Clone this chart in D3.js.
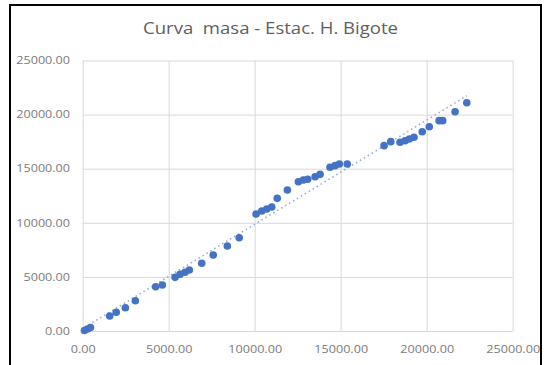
<!DOCTYPE html>
<html>
<head>
<meta charset="utf-8">
<script src="https://cdn.jsdelivr.net/npm/d3@7/dist/d3.min.js"></script>
<style>
  body { margin: 0; background: #fff; }
  svg { display: block; }
</style>
</head>
<body>
<svg id="chart" width="544" height="365"></svg>
<script>
// Mass curve: cumulative values of the station against the cumulative reference
const chartTitle = "Curva  masa - Estac. H. Bigote";

const xCumulative = [
  100, 280, 450, 1570, 1950, 2480, 3060, 4240, 4630, 5370,
  5660, 5950, 6200, 6920, 7590, 8410, 9100, 10080, 10410, 10700,
  10990, 11310, 11900, 12540, 12830, 13080, 13510, 13800, 14380, 14670,
  14920, 15380, 17520, 17910, 18450, 18740, 18990, 19260, 19740, 20150,
  20720, 20930, 21650, 22330
];
const yCumulative = [
  50, 180, 320, 1390, 1730, 2150, 2800, 4090, 4250, 4960,
  5240, 5430, 5640, 6260, 7020, 7860, 8620, 10810, 11090, 11280,
  11460, 12260, 13030, 13800, 13960, 14020, 14260, 14480, 15130, 15280,
  15430, 15430, 17130, 17500, 17440, 17590, 17750, 17900, 18420, 18880,
  19440, 19440, 20270, 21100
];

const xTickValues = [0, 5000, 10000, 15000, 20000, 25000];
const yTickValues = [0, 5000, 10000, 15000, 20000, 25000];

const svg = d3.select("#chart");
const FONT = "'Open Sans', 'Liberation Sans', sans-serif";
const GRID = "#d9d9d9";
const LABEL = "#7a7a7a";
const BLUE = "#4472c4";

// outer chart frame
svg.append("path")
  .attr("d", "M10,372 V5 H541 V372")
  .attr("fill", "none")
  .attr("stroke", "#000")
  .attr("stroke-width", 2);

const x = d3.scaleLinear().domain([0, 25000]).range([82.7, 512.7]);
const y = d3.scaleLinear().domain([0, 25000]).range([331, 60.5]);

// stretch tick labels horizontally to the wide face used in the chart
function widen(sel, factor) {
  sel.each(function () {
    const w = this.getComputedTextLength();
    d3.select(this).attr("textLength", w * factor).attr("lengthAdjust", "spacingAndGlyphs");
  });
}

// y axis with horizontal gridlines
const yAxis = svg.append("g")
  .attr("transform", `translate(${x(0)},0)`)
  .call(d3.axisLeft(y).tickValues(yTickValues).tickSize(-(x(25000) - x(0))).tickPadding(12.7)
    .tickFormat(d => d.toFixed(2)));
yAxis.select(".domain").remove();
yAxis.selectAll(".tick line").attr("stroke", GRID).attr("stroke-width", 1);
yAxis.selectAll(".tick text")
  .attr("fill", LABEL).style("font-family", FONT).style("font-size", "10px")
  .call(widen, 1.26);

// x axis with vertical gridlines
const xAxis = svg.append("g")
  .attr("transform", `translate(0,${y(0)})`)
  .call(d3.axisBottom(x).tickValues(xTickValues).tickSize(-(y(0) - y(25000))).tickPadding(0)
    .tickFormat(d => d.toFixed(2)));
xAxis.select(".domain").remove();
xAxis.selectAll(".tick line").attr("stroke", GRID).attr("stroke-width", 1);
xAxis.selectAll(".tick text")
  .attr("y", 22).attr("dy", 0)
  .attr("fill", LABEL).style("font-family", FONT).style("font-size", "10px")
  .call(widen, 1.26);

// plot points
const points = xCumulative.map((v, i) => ({ x: v, y: yCumulative[i] }));

// least-squares linear trend across the data range
const mx = d3.mean(points, d => d.x);
const my = d3.mean(points, d => d.y);
const slope = d3.sum(points, d => (d.x - mx) * (d.y - my)) / d3.sum(points, d => (d.x - mx) ** 2);
const intercept = my - slope * mx;
const [xmin, xmax] = d3.extent(points, d => d.x);
const trend = [xmin, xmax].map(v => ({ x: v, y: intercept + slope * v }));

svg.append("path")
  .datum(trend)
  .attr("d", d3.line().x(d => x(d.x)).y(d => y(d.y)))
  .attr("fill", "none")
  .attr("stroke", "#95b0de")
  .attr("stroke-width", 1.6)
  .attr("stroke-dasharray", "1.6,3");

svg.append("g")
  .selectAll("circle")
  .data(points)
  .join("circle")
  .attr("cx", d => x(d.x))
  .attr("cy", d => y(d.y))
  .attr("r", 3.8)
  .attr("fill", BLUE);

// title
const t = svg.append("text")
  .attr("x", 270.5)
  .attr("y", 33.5)
  .attr("text-anchor", "middle")
  .attr("fill", "#5f5f5f")
  .style("font-family", FONT)
  .style("font-size", "16.5px")
  .style("white-space", "pre")
  .attr("xml:space", "preserve")
  .text(chartTitle);
t.attr("textLength", 255).attr("lengthAdjust", "spacingAndGlyphs");
</script>
</body>
</html>
